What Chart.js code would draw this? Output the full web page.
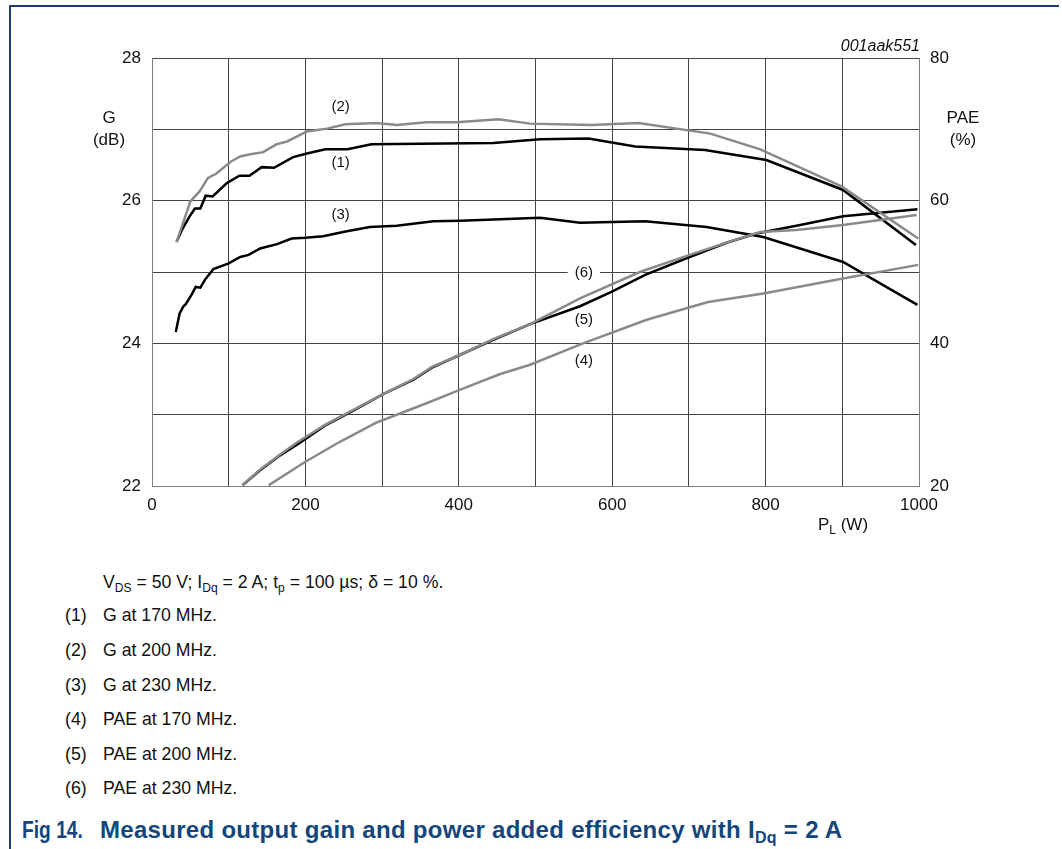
<!DOCTYPE html>
<html>
<head>
<meta charset="utf-8">
<script src="https://cdn.jsdelivr.net/npm/chart.js@4.4.1/dist/chart.umd.min.js"></script>
<style>
    body { margin: 0; background: #fff; font-family: "Liberation Sans", Arial, sans-serif; }
    #page { position: relative; width: 1062px; height: 849px; overflow: hidden; }
    #frame { position: absolute; left: 9px; top: 5px; width: 1048px; height: 860px;
             border-top: 2px solid #173f6b; border-left: 2px solid #173f6b; }
    #chartBox { position: absolute; left: 0; top: 0; width: 1062px; height: 540px; }
    .lbl { position: absolute; font-size: 17px; color: #111; text-align: center; line-height: 22px; }
    .note { position: absolute; font-size: 19px; color: #111; line-height: 22px; white-space: nowrap;
            transform: scaleX(0.93); transform-origin: left center; }
    .note sub { font-size: 13px; vertical-align: -4px; line-height: 0; }
    .caption { position: absolute; top: 817px; font-size: 24px; font-weight: bold; color: #12467c;
               line-height: 26px; white-space: nowrap; transform-origin: left center; }
    .caption sub { font-size: 16px; vertical-align: -5px; line-height: 0; }
</style>
</head>
<body>
<div id="page">
    <div id="frame"></div>
    <div id="chartBox"><canvas id="chart"></canvas></div>

    <div class="lbl" style="left:84px; top:107px; width:50px;">G<br>(dB)</div>
    <div class="lbl" style="left:933px; top:107px; width:60px;">PAE<br>(%)</div>
    <div class="lbl" style="left:805px; top:514px; width:76px;">P<sub style="font-size:12px;vertical-align:-4px;line-height:0">L</sub> (W)</div>
    <div class="lbl" style="left:780px; top:35px; width:140px; text-align:right; font-style:italic; font-size:16px;">001aak551</div>

    <div class="note" style="left:103px; top:571px;">V<sub>DS</sub> = 50 V; I<sub>Dq</sub> = 2 A; t<sub>p</sub> = 100 µs; δ = 10 %.</div>
    <div class="note" style="left:65px; top:604px;">(1)</div><div class="note" style="left:103px; top:604px;">G at 170 MHz.</div>
    <div class="note" style="left:65px; top:639px;">(2)</div><div class="note" style="left:103px; top:639px;">G at 200 MHz.</div>
    <div class="note" style="left:65px; top:674px;">(3)</div><div class="note" style="left:103px; top:674px;">G at 230 MHz.</div>
    <div class="note" style="left:65px; top:708px;">(4)</div><div class="note" style="left:103px; top:708px;">PAE at 170 MHz.</div>
    <div class="note" style="left:65px; top:743px;">(5)</div><div class="note" style="left:103px; top:743px;">PAE at 200 MHz.</div>
    <div class="note" style="left:65px; top:777px;">(6)</div><div class="note" style="left:103px; top:777px;">PAE at 230 MHz.</div>
    <div class="caption" style="left:22px; transform:scaleX(0.8);">Fig 14.</div>
    <div class="caption" style="left:100px; letter-spacing:0.3px;">Measured output gain and power added efficiency with I<sub>Dq</sub> = 2 A</div>
</div>

<script>
const g170W = [32, 39, 49, 56, 63, 70, 79, 98, 114, 127, 143, 159, 184, 202, 226, 255, 286, 445, 506, 569, 630, 721, 801, 901, 996];
const g170 = [25.42, 25.59, 25.78, 25.89, 25.89, 26.07, 26.06, 26.25, 26.35, 26.35, 26.47, 26.46, 26.61, 26.66, 26.72, 26.72, 26.79, 26.81, 26.86, 26.87, 26.76, 26.71, 26.57, 26.15, 25.38];

const g200W = [32, 50, 62, 73, 84, 103, 115, 128, 145, 162, 176, 202, 228, 252, 293, 319, 358, 397, 452, 493, 573, 634, 728, 793, 899, 999];
const g200 = [25.42, 25.99, 26.13, 26.32, 26.38, 26.55, 26.62, 26.65, 26.68, 26.79, 26.83, 26.97, 27.01, 27.07, 27.09, 27.06, 27.10, 27.10, 27.14, 27.08, 27.06, 27.09, 26.94, 26.72, 26.20, 25.47];

const g230W = [31, 36, 41, 44, 52, 57, 63, 69, 80, 100, 115, 126, 141, 163, 182, 200, 223, 254, 284, 319, 367, 402, 454, 506, 558, 643, 723, 797, 901, 964, 998];
const g230 = [24.16, 24.42, 24.52, 24.55, 24.69, 24.79, 24.78, 24.89, 25.04, 25.12, 25.21, 25.24, 25.33, 25.39, 25.47, 25.48, 25.50, 25.57, 25.63, 25.65, 25.71, 25.72, 25.74, 25.76, 25.69, 25.71, 25.63, 25.49, 25.14, 24.75, 24.54];

const pae170W = [152, 200, 245, 293, 358, 402, 454, 493, 562, 645, 725, 797, 901, 999];
const pae170 = [20.1, 23.4, 26.2, 28.9, 31.6, 33.5, 35.7, 37.0, 40.0, 43.3, 45.8, 47.0, 49.1, 51.0];

const pae200W = [118, 141, 167, 189, 226, 263, 302, 341, 365, 402, 445, 493, 558, 599, 643, 701, 749, 788, 845, 901, 998];
const pae200 = [20.1, 22.2, 24.3, 25.8, 28.5, 30.6, 32.9, 34.9, 36.6, 38.4, 40.5, 42.7, 45.2, 47.2, 49.6, 52.1, 54.1, 55.4, 56.6, 57.8, 58.8];

const pae230W = [118, 141, 167, 189, 226, 263, 302, 341, 365, 402, 445, 493, 558, 636, 701, 754, 793, 840, 901, 997];
const pae230 = [20.1, 22.3, 24.4, 26.1, 28.6, 30.7, 32.9, 35.0, 36.7, 38.4, 40.6, 42.7, 46.3, 50.0, 52.4, 54.3, 55.6, 55.9, 56.6, 58.0];

// curve tags, anchored in data units (x in W, y on the named axis)
const curveTags = [
    { text: '(2)', x: 246, y: 27.31, axis: 'y' },
    { text: '(1)', x: 246, y: 26.53, axis: 'y' },
    { text: '(3)', x: 246, y: 25.80, axis: 'y' },
    { text: '(6)', x: 563, y: 49.9, axis: 'y1', boxed: true },
    { text: '(5)', x: 563, y: 43.3, axis: 'y1' },
    { text: '(4)', x: 563, y: 37.5, axis: 'y1' }
];

const BLACK = '#000000';
const GRAY = '#8a8a8a';
const GRID = '#444444';
const FONT = '"Liberation Sans", Arial, sans-serif';

function pairs(xs, ys) {
    return xs.map((x, i) => ({ x: x, y: ys[i] }));
}

function series(label, xs, ys, color, axis) {
    return {
        label: label,
        data: pairs(xs, ys),
        yAxisID: axis,
        borderColor: color,
        borderWidth: 2.5,
        pointRadius: 0,
        tension: 0,
        fill: false,
        order: color === GRAY ? 0 : 1
    };
}

const tagPlugin = {
    id: 'curveTags',
    afterDatasetsDraw(chart) {
        const ctx = chart.ctx;
        ctx.save();
        ctx.font = '15px ' + FONT;
        ctx.textAlign = 'center';
        ctx.textBaseline = 'middle';
        curveTags.forEach(t => {
            const px = chart.scales.x.getPixelForValue(t.x);
            const py = chart.scales[t.axis].getPixelForValue(t.y);
            if (t.boxed) {
                const w = ctx.measureText(t.text).width + 14;
                ctx.fillStyle = '#fff';
                ctx.fillRect(px - w / 2, py - 8, w, 16);
            }
            ctx.fillStyle = '#111';
            ctx.fillText(t.text, px, py);
        });
        ctx.restore();
    }
};

const ctx = document.getElementById('chart').getContext('2d');
new Chart(ctx, {
    type: 'line',
    data: {
        datasets: [
            series('G at 170 MHz', g170W, g170, BLACK, 'y'),
            series('G at 200 MHz', g200W, g200, GRAY, 'y'),
            series('G at 230 MHz', g230W, g230, BLACK, 'y'),
            series('PAE at 170 MHz', pae170W, pae170, GRAY, 'y1'),
            series('PAE at 200 MHz', pae200W, pae200, BLACK, 'y1'),
            series('PAE at 230 MHz', pae230W, pae230, GRAY, 'y1')
        ]
    },
    options: {
        responsive: true,
        maintainAspectRatio: false,
        animation: false,
        layout: { padding: { top: 58, left: 0, right: 0, bottom: 0 } },
        plugins: {
            legend: { display: false },
            tooltip: { enabled: false }
        },
        scales: {
            x: {
                type: 'linear',
                min: 0,
                max: 1000,
                afterFit: scale => { scale.height = 54; },
                grid: { color: GRID, lineWidth: 1, drawTicks: false },
                border: { color: '#808080', width: 1 },
                ticks: {
                    stepSize: 100,
                    autoSkip: false,
                    maxRotation: 0,
                    padding: 9,
                    color: '#111',
                    font: { family: FONT, size: 17 },
                    callback: v => (v % 200 === 0 ? v : '')
                }
            },
            y: {
                position: 'left',
                min: 22,
                max: 28,
                afterFit: scale => { scale.width = 152; },
                grid: { color: GRID, lineWidth: 1, drawTicks: false },
                border: { color: '#808080', width: 1 },
                ticks: {
                    stepSize: 1,
                    padding: 11,
                    color: '#111',
                    font: { family: FONT, size: 17 },
                    callback: v => (v % 2 === 0 ? v : '')
                }
            },
            y1: {
                position: 'right',
                min: 20,
                max: 80,
                afterFit: scale => { scale.width = 143; },
                grid: { display: false, drawTicks: false },
                border: { color: '#808080', width: 1 },
                ticks: {
                    stepSize: 10,
                    padding: 11,
                    color: '#111',
                    font: { family: FONT, size: 17 },
                    callback: v => (v % 20 === 0 ? v : '')
                }
            }
        }
    },
    plugins: [tagPlugin]
});
</script>
</body>
</html>
